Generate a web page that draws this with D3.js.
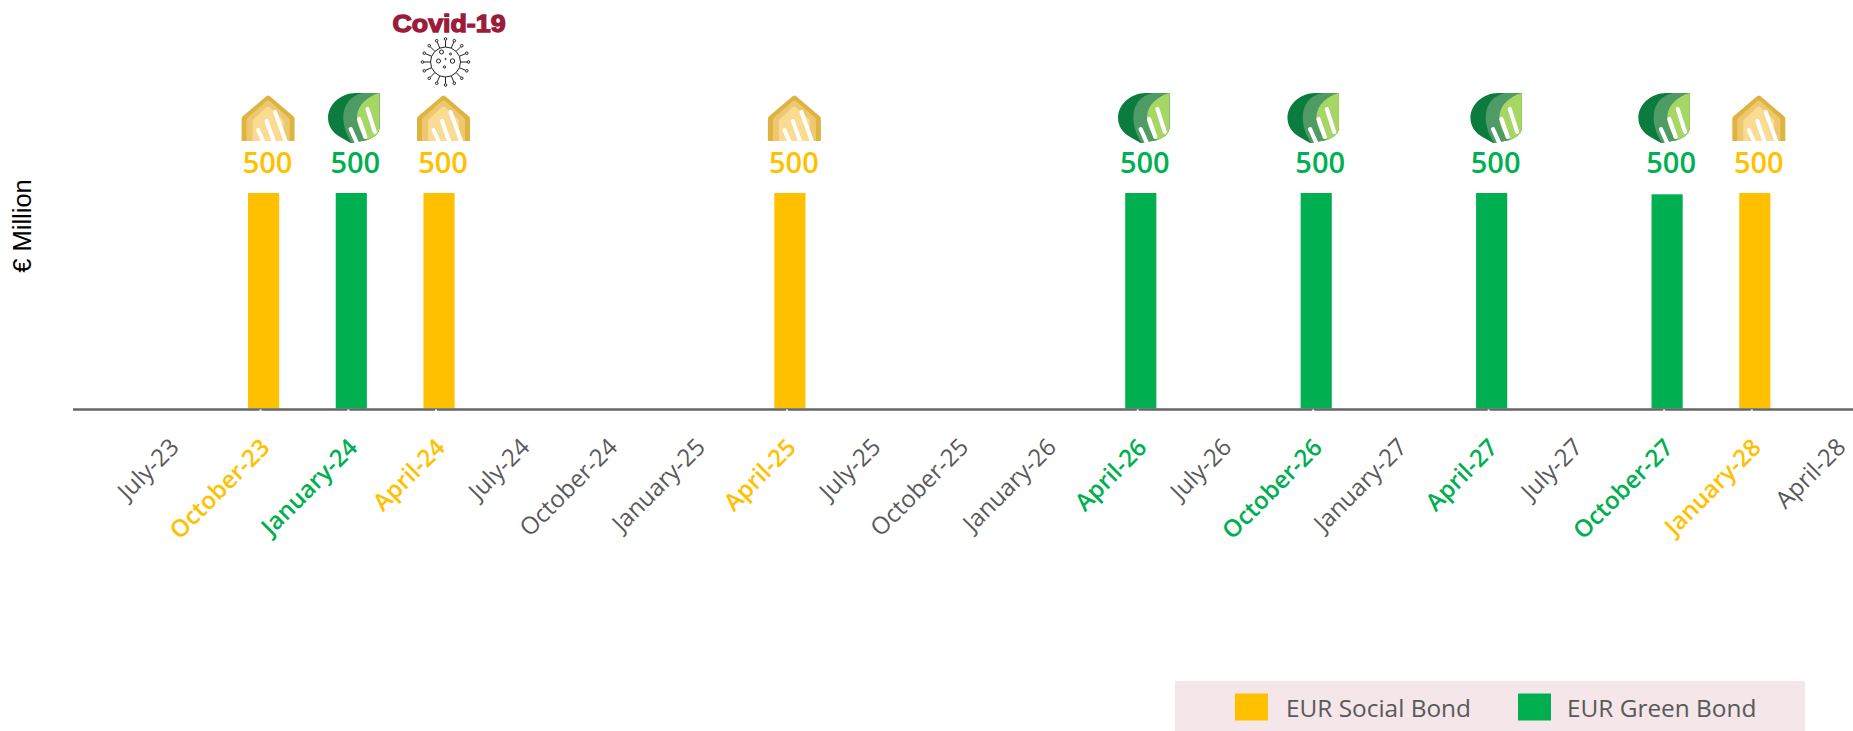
<!DOCTYPE html>
<html><head><meta charset="utf-8">
<script src="https://cdn.jsdelivr.net/npm/d3@7"></script>
<style>html,body{margin:0;padding:0;background:#fff}svg{display:block}</style>
</head><body><svg id="c" width="1853" height="731"></svg>
<script>
const categories = ["July-23","October-23","January-24","April-24","July-24","October-24","January-25","April-25","July-25","October-25","January-26","April-26","July-26","October-26","January-27","April-27","July-27","October-27","January-28","April-28"];
const socialValues = [null,500,null,500,null,null,null,500,null,null,null,null,null,null,null,null,null,null,500,null];
const greenValues  = [null,null,500,null,null,null,null,null,null,null,null,500,null,500,null,500,null,497,null,null];
const valueLabels  = [null,"500","500","500",null,null,null,"500",null,null,null,"500",null,"500",null,"500",null,"500","500",null];
const iconNudge    = [0,4.5,2.5,4.5,0,0,0,4.5,0,0,0,3,0,-3,0,4.5,0,-3,4,0];
const legendItems  = ["EUR Social Bond","EUR Green Bond"];
const yTitle = "€ Million";
const covidLabel = "Covid-19";
const covidCategory = "April-24";

const SOCIAL="#FFC000", GREEN="#00B050", GREY="#595959";
const svg=d3.select("#c");
const x=d3.scaleBand().domain(categories).range([132,132+20*87.72]).paddingInner(0.645).paddingOuter(0.3225);
const y=d3.scaleLinear().domain([0,500]).range([408.5,193]);
const cx=c=>x(c)+x.bandwidth()/2;

function bars(vals,col){
  svg.append("g").selectAll("rect").data(categories.map((c,i)=>({c,v:vals[i]})).filter(d=>d.v!=null)).join("rect")
    .attr("x",d=>x(d.c)).attr("width",x.bandwidth()).attr("y",d=>y(d.v)).attr("height",d=>y(0)-y(d.v)).attr("fill",col);
}
bars(socialValues,SOCIAL); bars(greenValues,GREEN);

const axis=svg.append("g").attr("transform","translate(0,409.5)").call(d3.axisBottom(x).tickSize(0).tickPadding(0));
axis.select(".domain").remove();
svg.append("line").attr("x1",73).attr("x2",1853).attr("y1",409.5).attr("y2",409.5).attr("stroke","#666666").attr("stroke-width",2.5);
const colorOf=i=>socialValues[i]!=null?SOCIAL:greenValues[i]!=null?GREEN:GREY;
axis.selectAll(".tick text")
  .attr("y",0).attr("dy",0)
  .attr("transform",(d,i)=>colorOf(i)===GREY?"translate(0,34.5) rotate(-45)":"translate(3,35) rotate(-45)")
  .attr("text-anchor","end").attr("dominant-baseline","middle")
  .style("font-family","'Open Sans',sans-serif").style("font-size","24px")
  .style("font-weight",(d,i)=>colorOf(i)===GREY?400:600)
  .attr("fill",(d,i)=>colorOf(i));

svg.append("g").selectAll("rect").data(categories.filter((c,i)=>colorOf(i)!==GREY)).join("rect")
  .attr("x",d=>cx(d)-4).attr("y",409.5).attr("width",2).attr("height",1.5).attr("fill","#fff");

svg.append("g").selectAll("text").data(categories.map((c,i)=>({c,i,t:valueLabels[i]})).filter(d=>d.t)).join("text")
  .attr("x",d=>cx(d.c)+4).attr("y",172.5).attr("text-anchor","middle")
  .style("font-family","'Open Sans',sans-serif").style("font-size","29px").style("font-weight",600)
  .attr("fill",d=>colorOf(d.i)).text(d=>d.t);

function house(g){
  const layer=(inset,col)=>{const k=inset;
    g.append("path").attr("d",`M${-26.5+k},46 V${24+k*0.25} Q${-26.5+k},${22+k*0.25} ${-25+k},${21+k*0.25} L-1.5,${1+k} Q0,${k} 1.5,${1+k} L${25-k},${21+k*0.25} Q${26.5-k},${22+k*0.25} ${26.5-k},${24+k*0.25} V46 Z`).attr("fill",col);};
  layer(0,"#DFB33F"); layer(5,"#EDC871"); layer(11,"#FADB92");
  [[7,17,17.5,46],[-1.5,26,5.5,46],[-10,35,-5,46]].forEach(s=>
    g.append("line").attr("x1",s[0]).attr("y1",s[1]).attr("x2",s[2]).attr("y2",s[3]).attr("stroke","#fff").attr("stroke-width",4).attr("stroke-linecap","round"));
}
function leaf(g){
  g.append("path").attr("d","M24.5,0 H2 C-12,0 -24.5,11 -24.5,25 C-24.5,33 -20,40 -13,44 L-3,50 L13,47 C20,44 24.5,40 24.5,34 V0 Z").attr("fill","#0B7B3E");
  g.append("path").attr("d","M24.5,0 H9 C-3,2 -10,12 -10,24 C-10,33 -7,42 -2,50 L13,47 C20,44 24.5,40 24.5,34 V0 Z").attr("fill","#4F9B66");
  g.append("path").attr("d","M24.5,0 C14,3 4,11 3,23 C3,33 7,41 13,47 C20,44 24.5,40 24.5,34 V0 Z").attr("fill","#A6D664");
  [[13,16,20,39],[5,26,11,44],[-3,36,3,50]].forEach(s=>
    g.append("line").attr("x1",s[0]).attr("y1",s[1]).attr("x2",s[2]).attr("y2",s[3]).attr("stroke","#fff").attr("stroke-width",4).attr("stroke-linecap","round"));
}
categories.forEach((c,i)=>{
  if(socialValues[i]!=null){ house(svg.append("g").attr("transform",`translate(${cx(c)+iconNudge[i]},95)`)); }
  if(greenValues[i]!=null){ leaf(svg.append("g").attr("transform",`translate(${cx(c)+iconNudge[i]},93) scale(1.05,1)`)); }
});

svg.append("text").attr("x",cx(covidCategory)+10).attr("y",32).attr("text-anchor","middle")
  .attr("textLength",113).attr("lengthAdjust","spacingAndGlyphs")
  .style("font-family","'Liberation Sans',sans-serif").style("font-size","24px").style("font-weight",700)
  .attr("fill","#9B1C3A").attr("stroke","#9B1C3A").attr("stroke-width",1.3).text(covidLabel);
const v=svg.append("g").attr("transform",`translate(${cx(covidCategory)+6.5},62) `).attr("fill","none").attr("stroke","#222").attr("stroke-width",1);
v.append("circle").attr("r",15);
d3.range(16).forEach(k=>{
  const a=k/16*2*Math.PI;
  v.append("line").attr("x1",15*Math.cos(a)).attr("y1",15*Math.sin(a)).attr("x2",21.5*Math.cos(a)).attr("y2",21.5*Math.sin(a));
  v.append("circle").attr("cx",23*Math.cos(a)).attr("cy",23*Math.sin(a)).attr("r",1.3);
});
[[-4,-10,2],[5,-8,1],[7,-1,2.2],[-7,-1,2],[-1,5,1.1],[0,-3,0.6]].forEach(p=>v.append("circle").attr("cx",p[0]).attr("cy",p[1]).attr("r",p[2]));

svg.append("text").attr("transform","translate(31,226) rotate(-90)").attr("text-anchor","middle")
  .style("font-family","'Liberation Sans',sans-serif").style("font-size","25.5px").attr("fill","#000").text(yTitle);

const lg=svg.append("g");
lg.append("rect").attr("x",1175).attr("y",681).attr("width",630).attr("height",50).attr("fill","#F4E6E9");
const legendX=d3.scaleOrdinal().domain(legendItems).range([1235,1518]);
const legendC=d3.scaleOrdinal().domain(legendItems).range([SOCIAL,GREEN]);
legendItems.forEach((t,i)=>{
  lg.append("rect").attr("x",legendX(t)).attr("y",693.5).attr("width",33).attr("height",27).attr("fill",legendC(t));
  lg.append("text").attr("x",legendX(t)+(i?49:51)).attr("y",716.5)
    .style("font-family","'Open Sans',sans-serif").style("font-size","24.4px").attr("fill",GREY).text(t);
});
</script></body></html>
